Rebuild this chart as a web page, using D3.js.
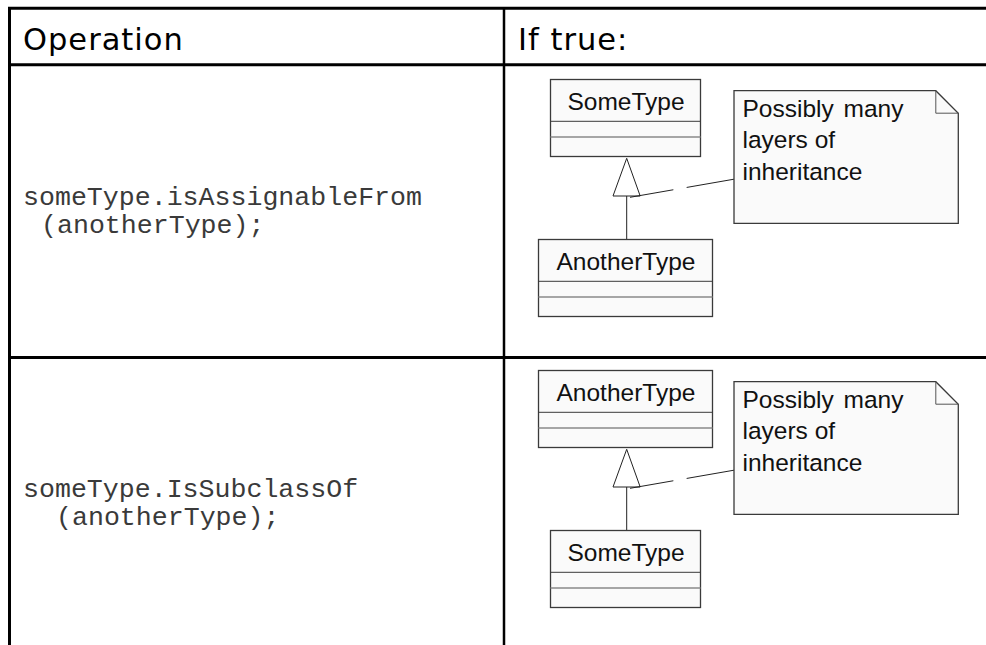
<!DOCTYPE html>
<html>
<head>
<meta charset="utf-8">
<script src="https://cdn.jsdelivr.net/npm/d3@7"></script>
<style>
  html, body { margin: 0; padding: 0; background: #fff; }
  svg { display: block; }
</style>
</head>
<body>
<svg id="chart" width="986" height="645"></svg>
<script>
// ---- data ----
const headers = ["Operation", "If true:"];
const codeLines = [
  ["someType.isAssignableFrom", "(anotherType);"],
  ["someType.IsSubclassOf", "(anotherType);"]
];
const codeIndent = [43, 58];
const parentTypes = ["SomeType", "AnotherType"];
const childTypes = ["AnotherType", "SomeType"];
const noteLines = ["Possibly many", "layers of", "inheritance"];
const rowIndex = [0, 1];

// ---- layout ----
const W = 986, H = 645;
const svg = d3.select("#chart");
const rowY = d3.scaleLinear().domain([0, 1]).range([0, 291]);
const colX = d3.scaleOrdinal().domain(headers).range([23, 518]);
const boxW = d3.scaleOrdinal().domain(["SomeType", "AnotherType"]).range([150, 174]);
const cx = 625.5;

const boxStroke = "#3a3a3a", divStroke = "#8a8a8a", fill = "#fafafa";

// Table lines
const tbl = svg.append("g");
tbl.append("line").attr("x1", 8).attr("x2", W).attr("y1", 8.3).attr("y2", 8.3)
  .attr("stroke", "#000").attr("stroke-width", 3);
tbl.append("line").attr("x1", 8).attr("x2", W).attr("y1", 64.7).attr("y2", 64.7)
  .attr("stroke", "#000").attr("stroke-width", 3);
tbl.append("line").attr("x1", 8).attr("x2", W).attr("y1", 357.5).attr("y2", 357.5)
  .attr("stroke", "#000").attr("stroke-width", 3);
tbl.append("line").attr("x1", 9.5).attr("x2", 9.5).attr("y1", 7).attr("y2", H)
  .attr("stroke", "#000").attr("stroke-width", 3);
tbl.append("line").attr("x1", 504).attr("x2", 504).attr("y1", 7).attr("y2", H)
  .attr("stroke", "#000").attr("stroke-width", 2.5);

// Headers
svg.selectAll("text.hdr").data(headers).join("text")
  .attr("class", "hdr")
  .attr("x", d => colX(d)).attr("y", 50)
  .attr("font-family", "'DejaVu Sans', Verdana, sans-serif")
  .attr("font-size", 30.5).attr("fill", "#000")
  .attr("letter-spacing", 1)
  .text(d => d);

// Code text
const code = svg.selectAll("g.code").data(rowIndex).join("g").attr("class", "code")
  .attr("transform", i => `translate(0,${rowY(i)})`);
code.append("text").attr("x", 23).attr("y", i => i === 0 ? 205 : 206)
  .attr("font-family", "'Liberation Mono', 'Courier New', monospace")
  .attr("font-size", 26.6).attr("fill", "#3a3a3a")
  .text(i => codeLines[i][0]);
code.append("text").attr("x", i => codeIndent[i] - 2).attr("y", i => i === 0 ? 232.5 : 234)
  .attr("font-family", "'Liberation Mono', 'Courier New', monospace")
  .attr("font-size", 26.6).attr("fill", "#3a3a3a")
  .text(i => codeLines[i][1]);

// UML diagrams
function umlBox(g, label, top) {
  const w = boxW(label);
  const x0 = cx - w / 2;
  g.append("rect").attr("x", x0).attr("y", top).attr("width", w).attr("height", 77)
    .attr("fill", fill).attr("stroke", boxStroke).attr("stroke-width", 1.3);
  g.append("line").attr("x1", x0).attr("x2", x0 + w).attr("y1", top + 41.8).attr("y2", top + 41.8)
    .attr("stroke", boxStroke).attr("stroke-width", 1);
  g.append("line").attr("x1", x0).attr("x2", x0 + w).attr("y1", top + 57.5).attr("y2", top + 57.5)
    .attr("stroke", divStroke).attr("stroke-width", 1.5);
  g.append("text").attr("x", cx + 0.5).attr("y", top + 30).attr("text-anchor", "middle")
    .attr("font-family", "'Liberation Sans', Arial, sans-serif")
    .attr("font-size", 24.5).attr("fill", "#111").text(label);
}

const diag = svg.selectAll("g.diag").data(rowIndex).join("g").attr("class", "diag")
  .attr("transform", i => `translate(0,${rowY(i)})`);

diag.each(function(i) {
  const g = d3.select(this);
  // generalization line + triangle
  g.append("line").attr("x1", 626.7).attr("x2", 626.7).attr("y1", 196).attr("y2", 239.5)
    .attr("stroke", "#222").attr("stroke-width", 1);
  g.append("path").attr("d", d3.line()([[626.7, 158.3], [640.2, 196], [613, 196]]) + "Z")
    .attr("fill", "#fff").attr("stroke", "#222").attr("stroke-width", 1);
  // dashed anchor
  g.append("line").attr("x1", 630).attr("y1", 197.3).attr("x2", 734).attr("y2", 179.2)
    .attr("stroke", "#222").attr("stroke-width", 1).attr("stroke-dasharray", "44,13.5,60");
  umlBox(g, parentTypes[i], 79.5);
  umlBox(g, childTypes[i], 239.5);
  // note
  const nx0 = 734, nx1 = 958.3, ny0 = 90.7, ny1 = 223.3, f = 22.5;
  g.append("path").attr("d", d3.line()([[nx0, ny0], [nx1 - f, ny0], [nx1, ny0 + f], [nx1, ny1], [nx0, ny1]]) + "Z")
    .attr("fill", fill).attr("stroke", boxStroke).attr("stroke-width", 1.3);
  g.append("path").attr("d", d3.line()([[nx1 - f, ny0], [nx1 - f, ny0 + f], [nx1, ny0 + f]]))
    .attr("fill", "none").attr("stroke", "#555").attr("stroke-width", 1);
  g.selectAll("text.note").data(noteLines).join("text").attr("class", "note")
    .attr("x", 742.5).attr("y", (d, k) => 116.7 + k * 31.7)
    .attr("font-family", "'Liberation Sans', Arial, sans-serif")
    .attr("font-size", 24.5).attr("fill", "#111")
    .attr("word-spacing", (d, k) => k === 0 ? 3 : 0)
    .text(d => d);
});
</script>
</body>
</html>
